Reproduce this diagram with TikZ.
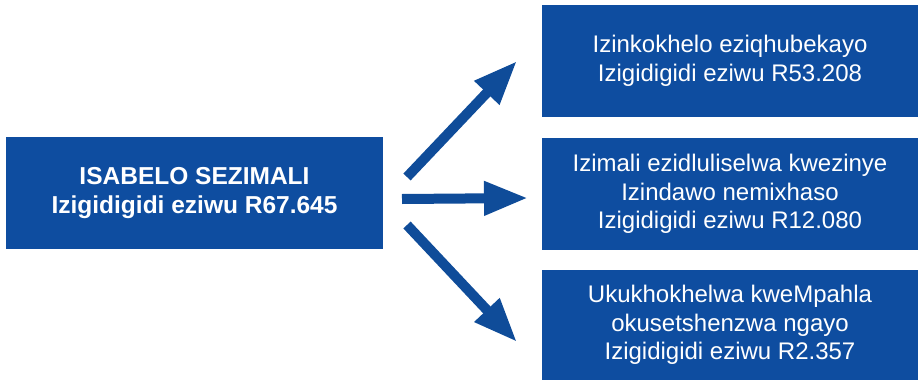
\documentclass[tikz,border=0pt]{standalone}
\usepackage{fontspec}
\setmainfont{Liberation Sans}
\usetikzlibrary{arrows.meta}
\definecolor{boxblue}{RGB}{14,77,160}
\definecolor{arrowblue}{RGB}{15,76,153}
\tikzset{
  bluebox/.style={rectangle, fill=boxblue, text=white, align=center, inner sep=0pt,
    minimum width=376pt, minimum height=112pt, font=\fontsize{24}{28.5}\selectfont},
  bigarrow/.style={draw=arrowblue, line width=10pt,
    -{Triangle[length=44pt,width=32pt]}}
}
\begin{document}
\begin{tikzpicture}[x=1pt,y=1pt]
\useasboundingbox (0,0) rectangle (918,-380);
\node[bluebox, minimum width=377pt, font=\bfseries\fontsize{24.5}{29}\selectfont] (src) at (194.5,-193) {ISABELO SEZIMALI\\Izigidigidi eziwu R67.645};
\node[bluebox] (t1) at (730,-61) {Izinkokhelo eziqhubekayo\\Izigidigidi eziwu R53.208};
\node[bluebox] (t2) at (730,-194) {Izimali ezidluliselwa kwezinye\\Izindawo nemixhaso\\Izigidigidi eziwu R12.080};
\node[bluebox, minimum height=110pt] (t3) at (730,-325) {Ukukhokhelwa kweMpahla\\okusetshenzwa ngayo\\Izigidigidi eziwu R2.357};
\coordinate (a1s) at (407,-177);
\coordinate (a1e) at (517,-61);
\coordinate (a2s) at (402,-199);
\coordinate (a2e) at (528,-198);
\coordinate (a3s) at (407,-225);
\coordinate (a3e) at (517,-342);
\draw[bigarrow] (a1s) -- (a1e);
\draw[bigarrow] (a2s) -- (a2e);
\draw[bigarrow] (a3s) -- (a3e);
\end{tikzpicture}
\end{document}
